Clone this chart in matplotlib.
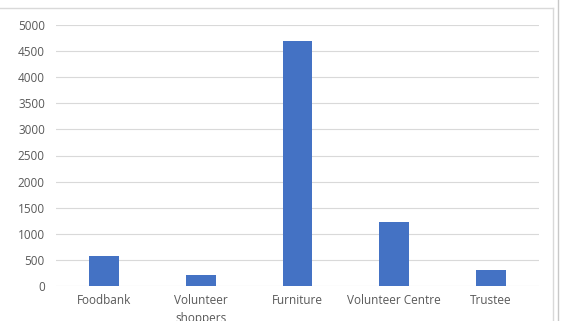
import matplotlib.pyplot as plt
from matplotlib.lines import Line2D

# Data
categories = ['Foodbank', 'Volunteer\nshoppers', 'Furniture', 'Volunteer Centre', 'Trustee']
values = [580, 210, 4700, 1220, 300]

plt.rcParams['font.family'] = ['Open Sans', 'DejaVu Sans']

fig = plt.figure(figsize=(5.64, 3.21), dpi=100)
ax = fig.add_axes([56 / 564, 1 - 286 / 321, 483 / 564, 261 / 321])

ax.bar(range(len(categories)), values, width=0.31, color='#4472C4', zorder=3)
ax.set_xlim(-0.5, len(categories) - 0.5)
ax.set_ylim(0, 5000)
ax.set_yticks(range(0, 5001, 500))
ax.set_xticks(range(len(categories)))
ax.set_xticklabels(categories, linespacing=1.5)

ax.grid(True, axis='y', color='#d9d9d9', linewidth=0.8, zorder=0)
for s in ax.spines.values():
    s.set_visible(False)
ax.tick_params(length=0, labelsize=8.5, labelcolor='#595959')
ax.tick_params(axis='y', pad=8)
ax.tick_params(axis='x', pad=6)

# chart border from the screenshot
fig.add_artist(Line2D([0, 553 / 564], [1 - 8 / 321, 1 - 8 / 321], color='#d9d9d9', linewidth=1))
fig.add_artist(Line2D([553 / 564, 553 / 564], [0, 1 - 8 / 321], color='#d9d9d9', linewidth=1))
fig.add_artist(Line2D([558 / 564, 558 / 564], [0, 1], color='#c8c8c8', linewidth=1))

fig.savefig('out.png', dpi=100)
